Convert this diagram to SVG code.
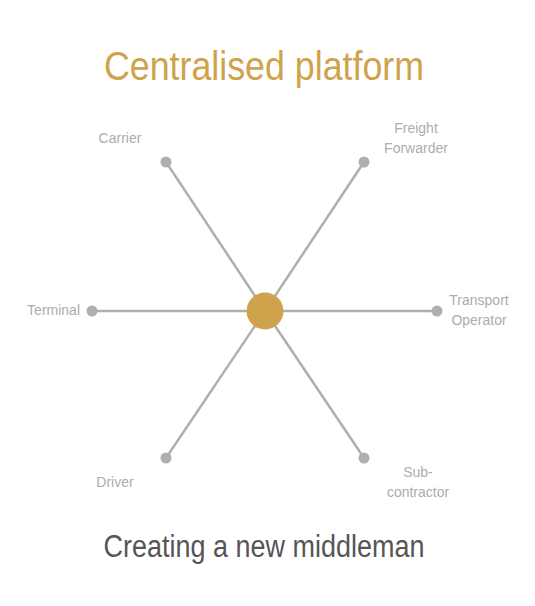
<svg xmlns="http://www.w3.org/2000/svg" width="535" height="606" viewBox="0 0 535 606">
<style>
.edge{stroke:#B1AEAC;stroke-width:2.5;fill:none}
.dot{fill:#B1AEAC}
.lbl{font-family:"Liberation Sans",Arial,sans-serif;font-size:14px;fill:#AFACAA}
.title{font-family:"Liberation Sans",Arial,sans-serif;font-size:40px;fill:#CFA24C}
.sub{font-family:"Liberation Sans",Arial,sans-serif;font-size:31px;fill:#555555}
</style>
<rect width="535" height="606" fill="#ffffff"/>
<text class="title" x="264" y="80" text-anchor="middle" textLength="320" lengthAdjust="spacingAndGlyphs">Centralised platform</text>
<g id="connectors">
<line class="edge" x1="265" y1="311" x2="166" y2="162"/>
<line class="edge" x1="265" y1="311" x2="364" y2="162"/>
<line class="edge" x1="265" y1="311" x2="92" y2="311"/>
<line class="edge" x1="265" y1="311" x2="437" y2="311"/>
<line class="edge" x1="265" y1="311" x2="166" y2="458"/>
<line class="edge" x1="265" y1="311" x2="364" y2="458"/>
</g>
<g id="carrier"><circle class="dot" cx="166" cy="162" r="5.5"/><text class="lbl" x="120" y="143" text-anchor="middle">Carrier</text></g>
<g id="freight-forwarder"><circle class="dot" cx="364" cy="162" r="5.5"/><text class="lbl" x="416" y="133" text-anchor="middle">Freight</text><text class="lbl" x="416" y="153" text-anchor="middle">Forwarder</text></g>
<g id="terminal"><circle class="dot" cx="92" cy="311" r="5.5"/><text class="lbl" x="80" y="315" text-anchor="end">Terminal</text></g>
<g id="transport-operator"><circle class="dot" cx="437" cy="311" r="5.5"/><text class="lbl" x="479" y="305" text-anchor="middle">Transport</text><text class="lbl" x="479" y="325" text-anchor="middle">Operator</text></g>
<g id="driver"><circle class="dot" cx="166" cy="458" r="5.5"/><text class="lbl" x="115" y="487" text-anchor="middle">Driver</text></g>
<g id="subcontractor"><circle class="dot" cx="364" cy="458" r="5.5"/><text class="lbl" x="418" y="477" text-anchor="middle">Sub-</text><text class="lbl" x="418" y="497" text-anchor="middle">contractor</text></g>
<g id="platform"><circle cx="265" cy="311" r="18.5" fill="#CFA24C"/></g>
<text class="sub" x="264" y="557" text-anchor="middle" textLength="321" lengthAdjust="spacingAndGlyphs">Creating a new middleman</text>
</svg>
